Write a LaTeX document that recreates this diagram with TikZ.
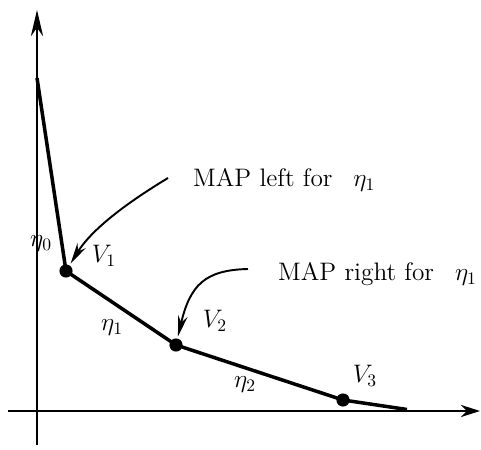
\documentclass[tikz,border=0pt]{standalone}
\usepackage{amsmath,amssymb}
\usepackage{tikz}
\usetikzlibrary{arrows.meta}
\tikzset{
  axis/.style={line width=1pt,draw=black},
  frontier/.style={line width=2pt,draw=black},
  callout/.style={line width=1.1pt,draw=black,-{Stealth[length=12pt,width=5.5pt]},shorten >=1pt},
  vpoint/.style={circle,fill=black,inner sep=0pt,minimum size=7.5pt},
  note/.style={anchor=base west}
}
\begin{document}
\begin{tikzpicture}[every node/.style={font=\Large}]
  \useasboundingbox (0,0) rectangle (9.62,8.98);
  \coordinate (S) at (0.74, 7.42);
  \coordinate (E) at (8.14, 0.79);
  \coordinate (L1) at (3.36, 5.42);
  \coordinate (L2) at (4.96, 3.60);

  \draw[axis,-{Stealth[length=15pt,width=7pt]}] (0.74, 0.08)--(0.74, 8.78);
  \draw[axis,-{Stealth[length=11pt,width=7pt]}] (0.16, 0.76)--(9.60, 0.76);

  \node[vpoint] (V1) at (1.32, 3.56){};
  \node[vpoint] (V2) at (3.52, 2.08){};
  \node[vpoint] (V3) at (6.86, 0.98){};
  \draw[frontier] (S)--(V1.center)--(V2.center)--(V3.center)--(E);

  \node (labV1) at (2.08, 3.86) {$V_1$};
  \node (labV2) at (4.30, 2.56) {$V_2$};
  \node (labV3) at (7.30, 1.46) {$V_3$};
  \node (eta0) at (0.82, 4.10) {$\eta_0$};
  \node (eta1) at (2.24, 2.42) {$\eta_1$};
  \node (eta2) at (4.90, 1.28) {$\eta_2$};

  \node[note] (mapl) at (3.74, 5.24) {MAP left for \enspace$\eta_1$};
  \node[note] (mapr) at (5.44, 3.36) {MAP right for \enspace$\eta_1$};
  \draw[callout] (L1) .. controls (2.40, 4.84) and (1.80, 4.34) .. (V1);
  \draw[callout] (L2) .. controls (4.10, 3.58) and (3.80, 3.28) .. (V2);
\end{tikzpicture}
\end{document}
